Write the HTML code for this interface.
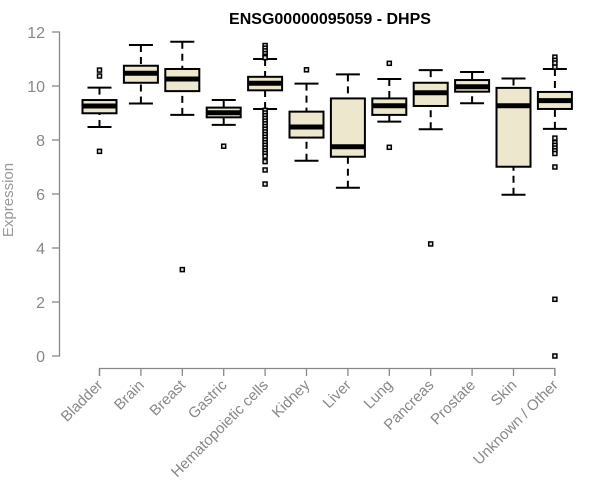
<!DOCTYPE html>
<html><head><meta charset="utf-8"><style>
body{margin:0;background:#fff}
svg{display:block;font-family:"Liberation Sans",sans-serif}
</style></head><body>
<svg id="chart" width="600" height="500">
<text x="330" y="24" text-anchor="middle" font-size="16" font-weight="bold" fill="#000">ENSG00000095059 - DHPS</text>
<text transform="translate(13,200) rotate(-90)" text-anchor="middle" font-size="15" fill="#999">Expression</text>
<g id="g"></g>
</svg>
<script>
const categories=["Bladder","Brain","Breast","Gastric","Hematopoietic cells","Kidney","Liver","Lung","Pancreas","Prostate","Skin","Unknown / Other"];
const whiskLow=[8.48,9.35,8.93,8.56,9.15,7.23,6.23,8.68,8.4,9.36,5.97,8.41];
const q1=[8.99,10.12,9.81,8.84,9.84,8.09,7.38,8.93,9.26,9.79,7.01,9.15];
const medians=[9.26,10.47,10.26,9.01,10.1,8.48,7.75,9.27,9.75,9.97,9.27,9.46];
const q3=[9.48,10.75,10.63,9.2,10.34,9.05,9.54,9.54,10.12,10.22,9.93,9.78];
const whiskHigh=[9.94,11.52,11.64,9.48,11.0,10.09,10.43,10.26,10.59,10.52,10.28,10.63];
const outliers=[[10.59,10.37,7.58],[],[3.2],[7.77],[11.5,11.4,11.3,11.2,11.1,11.05,9.1,9.0,8.9,8.8,8.7,8.6,8.5,8.4,8.3,8.2,8.1,8.0,7.9,7.8,7.7,7.6,7.5,7.4,7.2,6.89,6.37],[10.6],[],[10.84,7.73],[4.15],[],[],[11.07,10.95,10.85,10.7,8.07,7.9,7.8,7.7,7.6,7.5,7.0,2.1,0]];
const yTicks=[0,2,4,6,8,10,12];
const NS="http://www.w3.org/2000/svg";
const g=document.getElementById('g');
const y=v=>356-v*27;
const x=i=>99.5+41.4*i;
function mk(t,a){const e=document.createElementNS(NS,t);for(const k in a)e.setAttribute(k,a[k]);g.appendChild(e);return e;}
let ax=mk('path',{d:`M52,${y(12)}H59.5V${y(0)}H52`,stroke:'#888','stroke-width':1.3,fill:'none'});


yTicks.forEach(t=>{
 if(t>0&&t<12){const l=mk('line',{x1:52,x2:59.5,y1:y(t),y2:y(t),stroke:'#888','stroke-width':1.3});
 
 }
 const tx=mk('text',{x:45,y:y(t)+6,'text-anchor':'end','font-size':16,fill:'#888'});tx.textContent=t;
 
 
});
let xa=mk('path',{d:`M${x(0)},376V368.5H${x(11)}V376`,stroke:'#888','stroke-width':1.3,fill:'none'});


categories.forEach((c,i)=>{
 const cx=x(i),w=17;
 const tk=mk('line',{x1:cx,x2:cx,y1:368.5,y2:376,stroke:'#888','stroke-width':1.3});
 
 
 const lb=mk('text',{transform:`translate(${cx+4},386) rotate(-45)`,'text-anchor':'end','font-size':15,fill:'#888'});lb.textContent=c;
 
 
 const wk=mk('path',{d:`M${cx},${y(whiskHigh[i])}V${y(q3[i])}M${cx},${y(whiskLow[i])}V${y(q1[i])}`,stroke:'#000','stroke-width':2,'stroke-dasharray':'7,5',fill:'none'});
 
 
 const cp=mk('path',{d:`M${cx-12},${y(whiskHigh[i])}H${cx+12}M${cx-12},${y(whiskLow[i])}H${cx+12}`,stroke:'#000','stroke-width':2,fill:'none'});
 
 
 const bx=mk('rect',{x:cx-w,y:y(q3[i]),width:2*w,height:y(q1[i])-y(q3[i]),fill:'#ede8cd',stroke:'#000','stroke-width':2});
 
 
 const md=mk('line',{x1:cx-w,x2:cx+w,y1:y(medians[i]),y2:y(medians[i]),stroke:'#000','stroke-width':5});
 
 
 outliers[i].forEach(v=>{
  const o=mk('rect',{x:cx-2,y:y(v)-2,width:4,height:4,fill:'#ddd',stroke:'#000','stroke-width':1.5});
  
  
 });
});
</script>
</body></html>
